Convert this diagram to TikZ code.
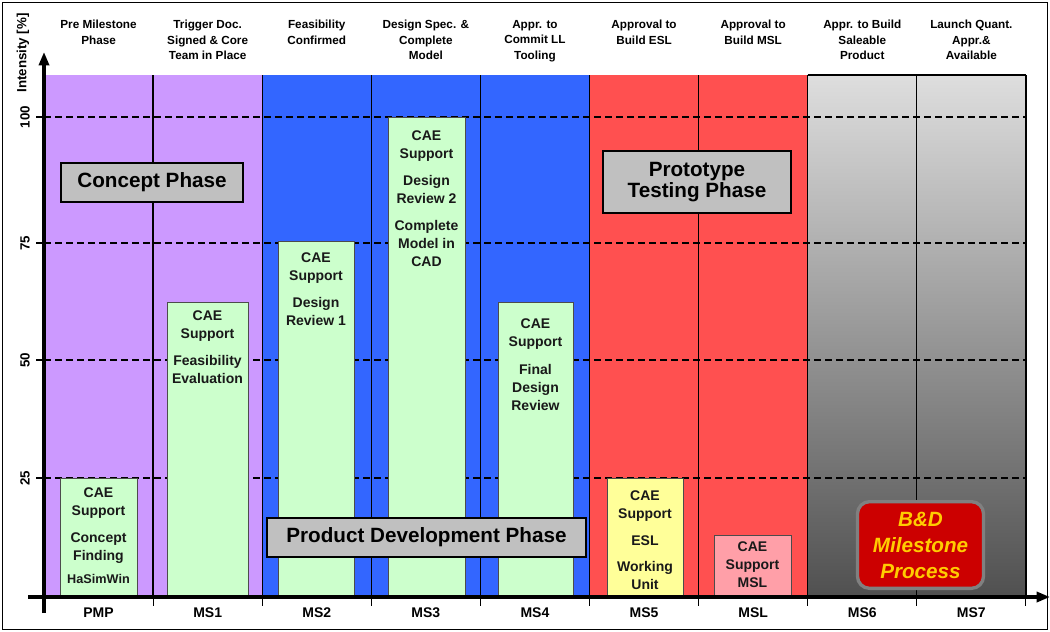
\documentclass[tikz,border=0pt]{standalone}
\usepackage{fontspec}
\setmainfont{Liberation Sans}
\usetikzlibrary{arrows.meta, positioning, calc}
\definecolor{conceptlila}{HTML}{CC99FF}
\definecolor{devblue}{HTML}{3366FF}
\definecolor{protored}{HTML}{FF5050}
\definecolor{caegreen}{HTML}{CCFFCC}
\definecolor{eslyellow}{HTML}{FFFF99}
\definecolor{mslpink}{HTML}{FF9FA8}
\definecolor{phasegray}{HTML}{C0C0C0}
\definecolor{bdred}{HTML}{CC0000}
\definecolor{bdgold}{HTML}{FFCC00}
\definecolor{launchtop}{HTML}{DEDEDE}
\definecolor{launchbot}{HTML}{505050}
\tikzset{
    msheader/.style={font=\fontsize{8.8}{11.5}\selectfont\bfseries, align=center, anchor=north, inner sep=0pt},
    mslabel/.style={font=\fontsize{10.5}{12}\selectfont\bfseries, inner sep=0pt},
    caebar/.style={draw=black!70, line width=0.6pt},
    caetext/.style={font=\fontsize{10.5}{13.5}\selectfont\bfseries, align=center, anchor=north, inner sep=0pt, text=black!90},
    phasebox/.style={draw, fill=phasegray, line width=0.8pt, font=\fontsize{15.5}{16}\selectfont\bfseries, align=center, inner sep=0pt},
    gridline/.style={line width=2.2pt, dash pattern=on 5.5pt off 2.75pt},
    axisline/.style={line width=2.4pt, -{Triangle[length=10pt, width=7.5pt]}},
    ticklabel/.style={rotate=90, font=\fontsize{10}{11}\selectfont\bfseries, inner sep=0pt}
}

\begin{document}
\begin{tikzpicture}[x=0.75pt, y=-0.75pt]
  \useasboundingbox (0,0) rectangle (1050,632);

  % phase backgrounds
  \fill[conceptlila] (44,75) rectangle (262.2,597);
  \fill[devblue]     (262.2,75) rectangle (589.5,597);
  \fill[protored]    (589.5,75) rectangle (807.7,597);
  \shade[top color=launchtop, bottom color=launchbot] (807.7,75) rectangle (1025.9,597);
  \draw[line width=1pt] (807.7,75) -- (1025.9,75);

  % milestone dividers and ticks
  \foreach \i in {1,...,8}
    \draw[line width=1pt] ({44+109.1*\i},75) -- ({44+109.1*\i},597);
  \draw[line width=2pt] (1025.9,75) -- (1025.9,597);
  \foreach \i in {1,...,9}
    \draw[line width=0.8pt] ({44+109.1*\i},597) -- ({44+109.1*\i},606);

  % intensity levels
  \foreach \p/\yy in {25/478, 50/360, 75/243, 100/117} {
    \draw[line width=2.2pt] (36,\yy) -- (44,\yy);
    \draw[gridline] (44,\yy) -- (1025.9,\yy);
    \node[ticklabel] (tick\p) at (25,\yy) {\p};
  }

  % CAE support bars
  \draw[caebar, fill=caegreen]  (60,478) rectangle (137,597);
  \draw[caebar, fill=caegreen]  (167,302) rectangle (248,597);
  \draw[caebar, fill=caegreen]  (278,241) rectangle (354,597);
  \draw[caebar, fill=caegreen]  (388,117) rectangle (465,597);
  \draw[caebar, fill=caegreen]  (498,302) rectangle (573,597);
  \draw[caebar, fill=eslyellow] (607,478) rectangle (683,597);
  \draw[caebar, fill=mslpink]   (714,535) rectangle (791,597);

  \node[caetext] (caePMP) at (98.5,487) {CAE\\Support\\[6.75pt]Concept\\Finding\\[4pt]{\fontsize{9.5}{11}\selectfont HaSimWin}};
  \node[caetext] (caeMSa) at (207.5,310) {CAE\\Support\\[6.75pt]Feasibility\\Evaluation};
  \node[caetext] (caeMSb) at (316,252) {CAE\\Support\\[6.75pt]Design\\Review 1};
  \node[caetext] (caeMSc) at (426.5,130) {CAE\\Support\\[6.75pt]Design\\Review 2\\[6.75pt]Complete\\Model in\\CAD};
  \node[caetext] (caeMSd) at (535.5,318) {CAE\\Support\\[8pt]Final\\Design\\Review};
  \node[caetext] (caeMSe) at (645,490) {CAE\\Support\\[6.75pt]ESL\\[6pt]Working\\Unit};
  \node[caetext] (caeMSL) at (752.5,541) {CAE\\Support\\MSL};

  % phase names
  \node[phasebox, minimum width=136.5pt, minimum height=29.25pt] (concept) at (152,182.5) {Concept Phase};
  \node[phasebox, minimum width=141pt, minimum height=46.5pt] (proto) at (697,182) {Prototype\\Testing Phase};
  \node[phasebox, minimum width=239.25pt, minimum height=29.25pt] (prodev) at (426.5,537.5) {Product Development Phase};

  \node[draw=gray, line width=2.5pt, fill=bdred, rounded corners=9pt, text=bdgold,
        font=\fontsize{15.5}{19.5}\selectfont\bfseries\itshape, align=center,
        minimum width=94.5pt, minimum height=65pt, inner sep=0pt] (bdbox) at (920.5,545) {B\&D\\Milestone\\Process};

  % axes
  \coordinate (yfoot) at (44,613);
  \coordinate (ytop)  at (44,52);
  \coordinate (xfoot) at (28,597);
  \coordinate (xend)  at (1050,597);
  \draw[axisline] (yfoot) -- (ytop);
  \draw[axisline] (xfoot) -- (xend);
  \node[ticklabel] (ylabel) at (23,53) {Intensity [\%]};

  % milestone headers and names
  \foreach \i/\head/\ms in {1/{Pre Milestone\\Phase}/PMP,
                            2/{Trigger Doc.\\Signed \& Core\\Team in Place}/MS1,
                            3/{Feasibility\\Confirmed}/MS2,
                            4/{Design Spec. \&\\Complete\\Model}/MS3,
                            5/{Appr. to\\Commit LL\\Tooling}/MS4,
                            6/{Approval to\\Build ESL}/MS5,
                            7/{Approval to\\Build MSL}/MSL,
                            8/{Appr. to Build\\Saleable\\Product}/MS6,
                            9/{Launch Quant.\\Appr.\&\\Available}/MS7} {
    \node[msheader] (head\ms) at ({44+109.1*(\i-0.5)},20) {\head};
    \node[mslabel] (name\ms) at ({44+109.1*(\i-0.5)},613) {\ms};
  }

  \draw[line width=1pt] (2.5,2.5) rectangle (1047.5,629.5);
\end{tikzpicture}
\end{document}
